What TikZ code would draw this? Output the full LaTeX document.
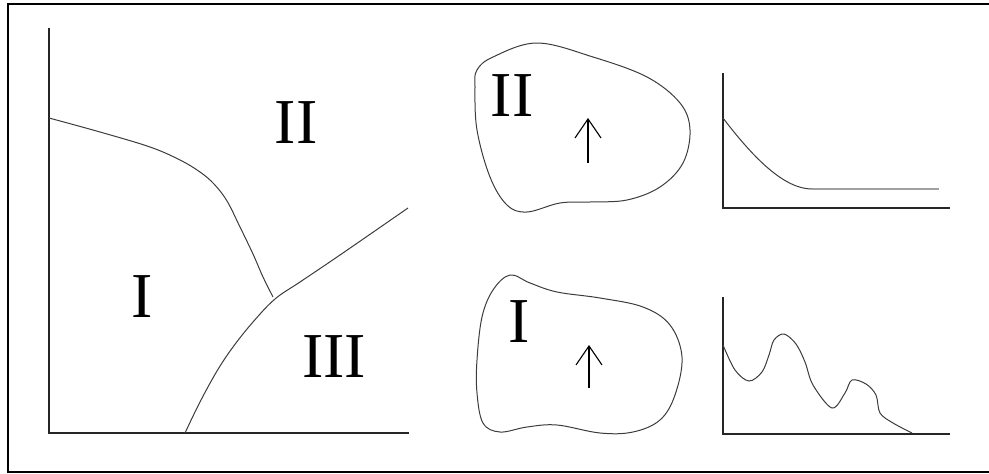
\documentclass[tikz,border=0pt]{standalone}
\usepackage{fontspec}
\setmainfont{Liberation Serif}
\usetikzlibrary{arrows.meta}
\definecolor{lngray}{RGB}{60,60,60}
\definecolor{lnlight}{RGB}{160,160,160}

\tikzset{
  region/.style={inner sep=0pt,font=\fontsize{64}{64}\selectfont},
  bound/.style={lngray,line width=1pt},
  axis/.style={black!85,line width=1.3pt},
  field/.style={black,line width=1.1pt,-{Straight Barb[length=19pt,width=26pt,line width=1.1pt]}}
}

\begin{document}
\begin{tikzpicture}[x=1pt,y=-1pt]
\useasboundingbox (0,0) rectangle (989,474);
% frame
\draw[line width=2.2pt] (989,4) -- (8,4) -- (8,472) -- (989,472);
% phase diagram
\coordinate (o) at (49,433);
\draw[axis] (49,28) -- (o) -- (409,433);
\draw[bound] plot[smooth,tension=0.6] coordinates {(49,118) (100,132) (150,147) (180,160) (200,172) (214,184) (227,201) (240,227) (253,254) (263,277) (273,297)};
\draw[bound] plot[smooth,tension=0.6] coordinates {(185,433) (200,402) (217,371) (233,347) (253,322) (275,299) (300,282) (340,255) (408,208)};
\node[region] (regI) at (142,297) {I};
\node[region] (regII) at (296,123) {II};
\node[region] (regIII) at (334,357) {III};
% domain II
\draw[bound] plot[smooth cycle,tension=0.6] coordinates {(477,70) (493,57) (537,43) (593,57) (647,77) (680,103) (690,130) (683,163) (660,187) (627,200) (590,202) (560,203) (527,212) (507,205) (490,177) (477,130) (475,87)};
\node[region] (domII) at (512,96) {II};
\coordinate (fIIa) at (588,163);
\coordinate (fIIb) at (588,118);
\draw[field] (fIIa) -- (fIIb);
% domain I
\draw[bound] plot[smooth cycle,tension=0.6] coordinates {(510,275) (530,283) (557,292) (600,298) (643,307) (670,325) (682,357) (675,395) (660,420) (633,432) (600,433) (557,425) (527,427) (500,432) (483,423) (477,393) (477,360) (482,317) (493,290)};
\node[region] (domI) at (519,322) {I};
\coordinate (fIa) at (589,388);
\coordinate (fIb) at (589,345);
\draw[field] (fIa) -- (fIb);
% decay curve
\coordinate (oII) at (723,208);
\draw[axis] (723,73) -- (oII) -- (950,208);
\draw[bound] (723,118) .. controls (755,160) and (785,189) .. (812,189);
\draw[lnlight,line width=1.3pt] (812,189) -- (939,189);
% oscillating curve
\coordinate (oI) at (723,434);
\draw[axis] (723,297) -- (oI) -- (950,434);
\draw[bound] plot[smooth,tension=0.55] coordinates {(723,345) (735,370) (749,381) (762,372) (769,355) (774,340) (784,334) (796,344) (805,362) (813,385) (832,408) (845,393) (852,380) (866,384) (876,395) (880,413) (893,423) (912,433)};
\end{tikzpicture}
\end{document}
